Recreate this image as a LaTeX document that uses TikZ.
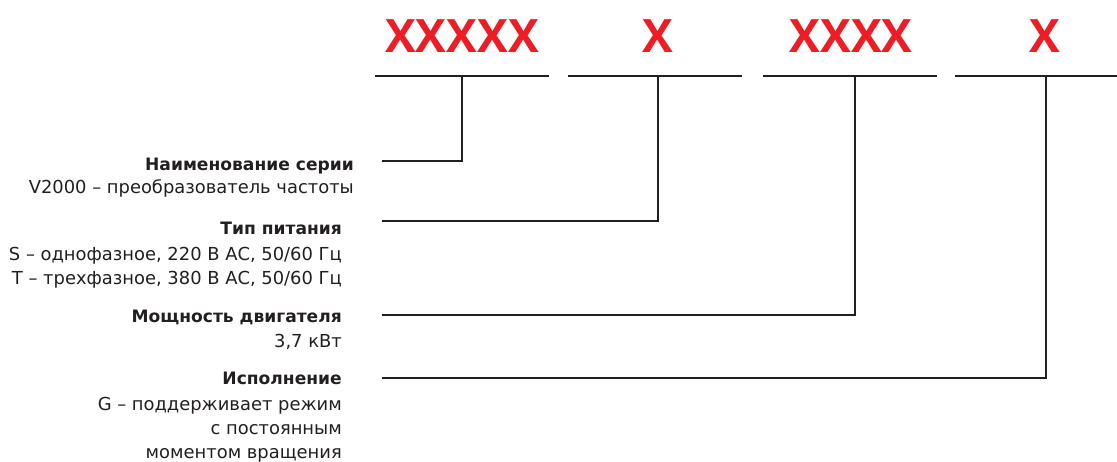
\documentclass[tikz,border=0pt]{standalone}
\usepackage{fontspec}
\setmainfont{DejaVu Sans}
\newfontfamily\codefont{Open Sans}
\usetikzlibrary{positioning}
\definecolor{codered}{HTML}{EE1C24}
\definecolor{inkblack}{HTML}{231F20}

\begin{document}
\begin{tikzpicture}[x=1pt, y=-1pt, every node/.style={inner sep=0pt, text=inkblack},
  code/.style={text=codered, font=\codefont\fontsize{46}{46}\selectfont\bfseries, anchor=base},
  rule/.style={line width=2.8pt, inkblack},
  head/.style={font=\fontsize{17.1}{24}\selectfont\bfseries, anchor=base east},
  desc/.style={font=\fontsize{17.9}{24}\selectfont, align=right, anchor=north east}]

\useasboundingbox (0,0) rectangle (1117,461);

% Code fields with underlines
\node[code] (code1) at (462,52) {XXXXX};
\node[code] (code2) at (658,52) {X};
\node[code] (code3) at (851,52) {XXXX};
\node[code] (code4) at (1045,52) {X};
\draw[rule] (375,76) -- (549,76);
\draw[rule] (568,76) -- (742,76);
\draw[rule] (763,76) -- (937,76);
\draw[rule] (955,76) -- (1117,76);
\coordinate (u1) at (462,76);
\coordinate (u2) at (658,76);
\coordinate (u3) at (855,76);
\coordinate (u4) at (1046,76);

% Series name
\node[head] (head1) at (354,170) {Наименование серии};
\node[below=6pt of head1.base east, desc] (desc1) {\strut V2000 – преобразователь частоты};
\coordinate (s1) at (382,161);

% Power supply
\node[head] (head2) at (342,234) {Тип питания};
\node[below=9pt of head2.base east, desc] (desc2) {\strut S – однофазное, 220 В АС, 50/60 Гц\\T – трехфазное, 380 В АС, 50/60 Гц};
\coordinate (s2) at (382,221);

% Motor power
\node[head] (head3) at (342,322) {Мощность двигателя};
\node[below=8pt of head3.base east, desc] (desc3) {\strut 3,7 кВт};
\coordinate (s3) at (382,315);

% Version
\node[head] (head4) at (342,384) {Исполнение};
\node[below=9pt of head4.base east, desc] (desc4) {\strut G – поддерживает режим\\с постоянным\\моментом вращения};
\coordinate (s4) at (382,378);

% Leaders
\draw[rule] (s1) -| (u1);
\draw[rule] (s2) -| (u2);
\draw[rule] (s3) -| (u3);
\draw[rule] (s4) -| (u4);

\end{tikzpicture}
\end{document}
